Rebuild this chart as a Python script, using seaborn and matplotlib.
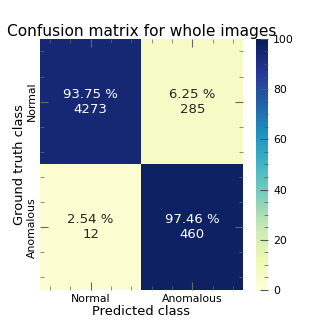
import numpy as np
import matplotlib
matplotlib.use("Agg")
import matplotlib.pyplot as plt
import seaborn as sns
from matplotlib.ticker import AutoMinorLocator

# Confusion matrix data
classes = ["Normal", "Anomalous"]
counts = np.array([[4273, 285],
                   [12, 460]])
percent = np.array([[93.75, 6.25],
                    [2.54, 97.46]])

labels = np.array([[f"{percent[i, j]:.2f} %\n{counts[i, j]}" for j in range(2)]
                   for i in range(2)])

fig = plt.figure(figsize=(3.27, 3.27), dpi=100)
ax = fig.add_axes([0.122, 0.113, 0.621, 0.768])
cax = fig.add_axes([0.783, 0.113, 0.037, 0.768])

sns.heatmap(percent, annot=labels, fmt="", cmap="YlGnBu", vmin=0, vmax=100,
            xticklabels=classes, yticklabels=classes, ax=ax, cbar_ax=cax,
            annot_kws={"fontsize": 9.5})

ax.set_title("Confusion matrix for whole images", fontsize=11.1, pad=2)
ax.set_xlabel("Predicted class", fontsize=9.4, labelpad=1)
ax.set_ylabel("Ground truth class", fontsize=9.4, labelpad=0)
ax.tick_params(axis="both", which="both", direction="in", top=True, right=True,
               labelsize=7.8, color="#666666", pad=2.5)
ax.tick_params(which="major", length=6, width=0.8)
ax.tick_params(which="minor", length=3, width=0.5)
ax.xaxis.set_minor_locator(AutoMinorLocator(5))
ax.yaxis.set_minor_locator(AutoMinorLocator(5))
ax.set_yticklabels(classes, rotation=90, va="center")
ax.set_xticklabels(classes, rotation=0)

cax.set_yticks([0, 20, 40, 60, 80, 100])
cax.yaxis.set_minor_locator(AutoMinorLocator(4))
cax.tick_params(which="both", direction="in", labelsize=7.8, color="#555555")
cax.tick_params(which="major", length=6, width=0.8)
cax.tick_params(which="minor", length=3, width=0.5)
cax.tick_params(axis="x", which="both", bottom=False, top=False)
for s in cax.spines.values():
    s.set_visible(False)

fig.savefig("out.png", dpi=100)
